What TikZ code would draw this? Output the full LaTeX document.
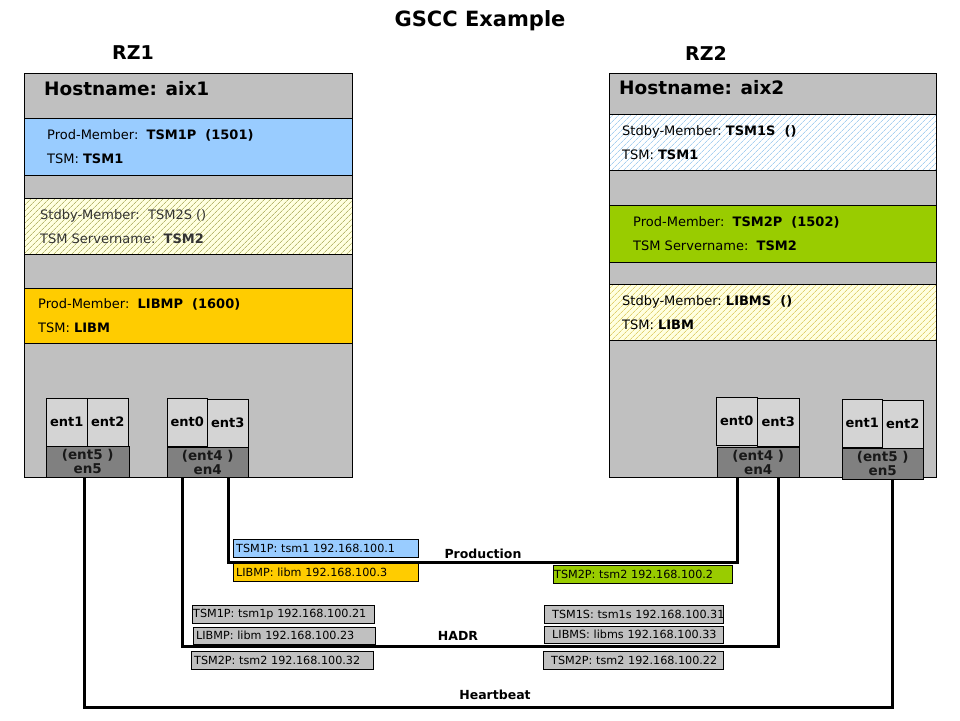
\documentclass[tikz,border=0pt]{standalone}
\usepackage{fontspec}
\setmainfont{DejaVu Sans}
\usetikzlibrary{positioning,patterns.meta}

\definecolor{hostgray}{HTML}{C0C0C0}
\definecolor{entgray}{HTML}{D4D4D4}
\definecolor{engray}{HTML}{808080}
\definecolor{tsmblue}{HTML}{99CCFF}
\definecolor{libmorange}{HTML}{FFCC00}
\definecolor{tsmgreen}{HTML}{99CC00}
\definecolor{paleyellow}{HTML}{FFFFE0}
\definecolor{hatcholive}{HTML}{B8B870}
\definecolor{hatchyellow}{HTML}{E0D070}
\definecolor{hatchblue}{HTML}{A8D0F0}

\tikzset{
  title/.style={font=\fontsize{21}{24}\selectfont\bfseries},
  site/.style={font=\fontsize{19}{22}\selectfont\bfseries},
  host/.style={draw, fill=hostgray, anchor=north west, inner sep=0pt,
    minimum width=328pt, minimum height=404pt},
  hostname/.style={anchor=west, inner sep=0pt,
    font=\fontsize{18.5}{22}\selectfont\bfseries},
  band/.style={draw, anchor=north west, inner sep=0pt,
    minimum width=328pt, minimum height=56pt},
  bandtext/.style={anchor=west, inner sep=0pt, align=left,
    font=\fontsize{13}{24}\selectfont},
  hatch/.style={preaction={fill=#1},
    pattern={Lines[angle=45,distance=4pt,line width=.7pt]}},
  ent/.style={draw, fill=entgray, anchor=north west, inner sep=0pt,
    minimum width=41pt, minimum height=48pt,
    font=\fontsize{13}{14}\selectfont\bfseries},
  en/.style={draw, fill=engray, anchor=north west, inner sep=0pt,
    minimum width=83pt, minimum height=31pt, align=center,
    text=black!90, font=\fontsize{13.5}{14}\selectfont\bfseries},
  link/.style={line width=3pt},
  linelabel/.style={font=\fontsize{12.5}{14}\selectfont\bfseries},
  ip/.style={draw, anchor=north west, inner xsep=0pt, inner ysep=0pt,
    minimum height=18pt, align=left, font=\fontsize{11.2}{13}\selectfont}
}

\begin{document}
\begin{tikzpicture}[x=1pt,y=-1pt]
\useasboundingbox (0,0) rectangle (960,720);

% Title and sites
\node[title] (ttl) at (480,21) {GSCC Example};
\node[site] (rz1) at (133,53) {RZ1};
\node[site] (rz2) at (706,53) {RZ2};

% Host aix1
\node[host] (aix1) at (24,73) {};
\node[hostname] (hn1) at (44,89) {Hostname: aix1};
\node[band, fill=tsmblue, minimum height=57pt] (tsm1p) at (24,118) {};
\node[bandtext] at ([xshift=23pt]tsm1p.west)
  {Prod-Member:\ \ \textbf{TSM1P\ \ (1501)}\\TSM: \textbf{TSM1}};
\node[band, hatch=paleyellow, pattern color=hatcholive] (tsm2s) at (24,198) {};
\node[bandtext, text=black!80] at ([xshift=16pt]tsm2s.west)
  {Stdby-Member:\ \ TSM2S ()\\TSM Servername:\ \ \textbf{TSM2}};
\node[band, fill=libmorange, minimum height=55pt] (libmp) at (24,288) {};
\node[bandtext] at ([xshift=14pt]libmp.west)
  {Prod-Member:\ \ \textbf{LIBMP\ \ (1600)}\\TSM: \textbf{LIBM}};

% Host aix2
\node[host, minimum width=327pt] (aix2) at (609,73) {};
\node[hostname] (hn2) at (619,88) {Hostname: aix2};
\node[band, minimum width=327pt, hatch=white, pattern color=hatchblue] (tsm1s) at (609,114) {};
\node[bandtext] at ([xshift=13pt]tsm1s.west)
  {Stdby-Member:\ \textbf{TSM1S\ \ ()}\\TSM: \textbf{TSM1}};
\node[band, minimum width=327pt, minimum height=57pt, fill=tsmgreen] (tsm2p) at (609,205) {};
\node[bandtext] at ([xshift=24pt]tsm2p.west)
  {Prod-Member:\ \ \textbf{TSM2P\ \ (1502)}\\TSM Servername:\ \ \textbf{TSM2}};
\node[band, minimum width=327pt, hatch=paleyellow, pattern color=hatchyellow] (libms) at (609,284) {};
\node[bandtext] at ([xshift=13pt]libms.west)
  {Stdby-Member:\ \textbf{LIBMS\ \ ()}\\TSM: \textbf{LIBM}};

% Adapters aix1
\node[ent] (ent1a) at (46,398) {ent1};
\node[ent] (ent2a) at (87,398) {ent2};
\node[en] (en5a) at (46,446) {(ent5 )\\en5};
\node[ent, minimum width=40pt] (ent0a) at (167,398) {ent0};
\node[ent] (ent3a) at (207,399) {ent3};
\node[en, minimum width=81pt, minimum height=30pt] (en4a) at (167,447) {(ent4 )\\en4};

% Adapters aix2
\node[ent] (ent0b) at (716,397) {ent0};
\node[ent, minimum width=42pt] (ent3b) at (757,398) {ent3};
\node[en, minimum width=82pt, minimum height=30pt] (en4b) at (717,447) {(ent4 )\\en4};
\node[ent, minimum width=40pt] (ent1b) at (842,399) {ent1};
\node[ent] (ent2b) at (882,400) {ent2};
\node[en, minimum width=81pt] (en5b) at (842,448) {(ent5 )\\en5};

% Networks
\coordinate (prL) at (228,562);
\coordinate (prR) at (737,562);
\coordinate (hdL) at (182,646);
\coordinate (hdR) at (778,646);
\coordinate (hbL) at (84,707);
\coordinate (hbR) at (892,707);
\draw[link] (en4a.south -| prL) -- (prL) -- (prR) -- (en4b.south -| prR);
\draw[link] (en4a.south -| hdL) -- (hdL) -- (hdR) -- (en4b.south -| hdR);
\draw[link] (en5a.south -| hbL) -- (hbL) -- (hbR) -- (en5b.south -| hbR);
\node[linelabel] (prod) at (483,554) {Production};
\node[linelabel] (hadr) at (458,636) {HADR};
\node[linelabel] (hb) at (495,695) {Heartbeat};

% Service addresses
\node[ip, fill=tsmblue, text width=185pt] (ip1) at (233,539) {\mbox{\hspace{3pt}TSM1P: tsm1 192.168.100.1}};
\node[ip, fill=libmorange, text width=185pt] (ip3) at (233,563) {\mbox{\hspace{3pt}LIBMP: libm 192.168.100.3}};
\node[ip, fill=tsmgreen, text width=179pt] (ip2) at (553,565) {\mbox{\hspace{1pt}TSM2P: tsm2 192.168.100.2}};
\node[ip, fill=hostgray, text width=182pt] (ip21) at (192,605) {\mbox{\hspace{1pt}TSM1P: tsm1p 192.168.100.21}};
\node[ip, fill=hostgray, text width=182pt, minimum height=17pt] (ip23) at (193,627) {\mbox{\hspace{3pt}LIBMP: libm 192.168.100.23}};
\node[ip, fill=hostgray, text width=182pt] (ip32) at (191,651) {\mbox{\hspace{3pt}TSM2P: tsm2 192.168.100.32}};
\node[ip, fill=hostgray, text width=179pt] (ip31) at (544,605) {\mbox{\hspace{8pt}TSM1S: tsm1s 192.168.100.31}};
\node[ip, fill=hostgray, text width=179pt, minimum height=17pt] (ip33) at (544,626) {\mbox{\hspace{8pt}LIBMS: libms 192.168.100.33}};
\node[ip, fill=hostgray, text width=180pt] (ip22) at (543,651) {\mbox{\hspace{8pt}TSM2P: tsm2 192.168.100.22}};
\end{tikzpicture}
\end{document}
